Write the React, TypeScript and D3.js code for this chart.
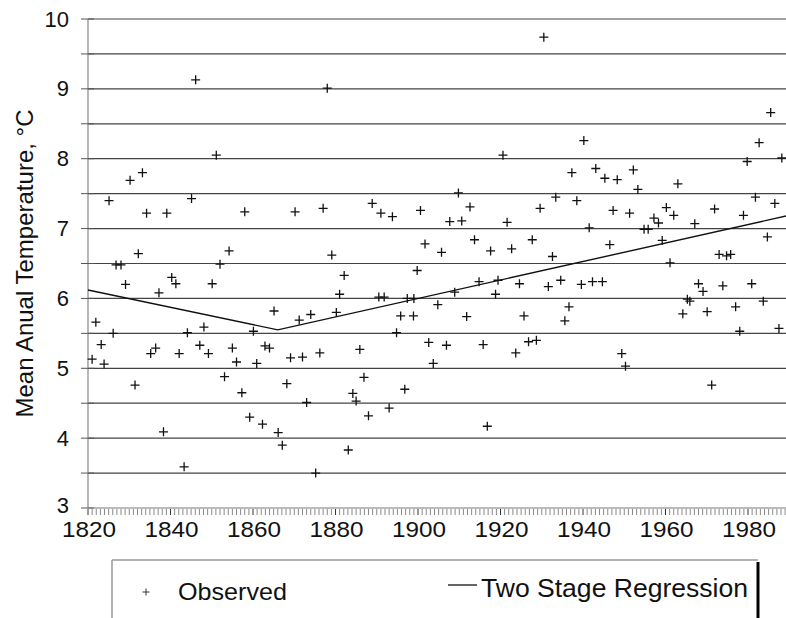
import React from "react";
import * as d3 from "d3";

// observed annual means: [year, °C]
const observed: [number, number][] = [
  [1821.0, 5.13], [1821.9, 5.66], [1823.2, 5.34], [1823.9, 5.06], [1825.1, 7.40], [1826.1, 5.50],
  [1826.8, 6.48], [1828.0, 6.48], [1829.1, 6.20], [1830.2, 7.69], [1831.4, 4.76], [1832.2, 6.64],
  [1833.2, 7.80], [1834.2, 7.22], [1835.2, 5.21], [1836.4, 5.29], [1837.2, 6.08], [1838.3, 4.09],
  [1839.1, 7.22], [1840.3, 6.30], [1841.3, 6.21], [1842.1, 5.21], [1843.3, 3.59], [1844.1, 5.51],
  [1845.1, 7.43], [1846.1, 9.13], [1847.1, 5.33], [1848.1, 5.59], [1849.2, 5.21], [1850.1, 6.21],
  [1851.1, 8.05], [1852.0, 6.49], [1853.1, 4.88], [1854.2, 6.68], [1855.0, 5.29], [1856.0, 5.09],
  [1857.3, 4.65], [1858.0, 7.24], [1859.2, 4.30], [1860.1, 5.53], [1860.9, 5.07],
  [1862.3, 4.20], [1862.9, 5.32], [1864.0, 5.29], [1865.1, 5.82], [1866.1, 4.08], [1867.1, 3.90],
  [1868.2, 4.78], [1869.1, 5.15], [1870.2, 7.24], [1871.2, 5.69], [1872.0, 5.16], [1873.0, 4.51],
  [1874.0, 5.77], [1875.2, 3.50], [1876.2, 5.22], [1877.0, 7.29], [1878.0, 9.01], [1879.1, 6.62],
  [1880.2, 5.80], [1881.0, 6.06], [1882.1, 6.33], [1883.1, 3.83], [1884.2, 4.64], [1885.0, 4.53],
  [1885.9, 5.27], [1886.9, 4.87], [1888.0, 4.32], [1888.9, 7.36], [1890.5, 6.02], [1891.0, 7.22],
  [1891.8, 6.02], [1893.0, 4.43], [1893.8, 7.17], [1894.8, 5.51], [1895.8, 5.75], [1896.8, 4.70],
  [1897.4, 6.00], [1898.9, 5.75], [1899.0, 6.00], [1899.8, 6.40], [1900.6, 7.26], [1901.7, 6.78],
  [1902.6, 5.37], [1903.7, 5.07], [1904.8, 5.91], [1905.7, 6.66], [1906.9, 5.33], [1907.7, 7.10],
  [1908.9, 6.09], [1909.8, 7.51], [1910.6, 7.11], [1911.8, 5.74], [1912.6, 7.31], [1913.7, 6.84],
  [1914.8, 6.24], [1915.8, 5.34], [1916.8, 4.17], [1917.6, 6.68], [1918.8, 6.06], [1919.4, 6.26],
  [1920.6, 8.05], [1921.6, 7.09], [1922.7, 6.71], [1923.7, 5.22], [1924.6, 6.21], [1925.7, 5.75],
  [1926.8, 5.38], [1927.7, 6.84], [1928.7, 5.40], [1929.6, 7.29], [1930.5, 9.74], [1931.6, 6.17],
  [1932.6, 6.60], [1933.4, 7.45], [1934.6, 6.26], [1935.6, 5.68], [1936.6, 5.88], [1937.3, 7.80],
  [1938.5, 7.40], [1939.6, 6.20], [1940.2, 8.26], [1941.5, 7.01], [1942.3, 6.24], [1943.1, 7.86],
  [1944.7, 6.24], [1945.3, 7.72], [1946.5, 6.77], [1947.3, 7.26], [1948.3, 7.70], [1949.4, 5.21],
  [1950.3, 5.03], [1951.3, 7.22], [1952.2, 7.84], [1953.3, 7.56], [1954.8, 6.99], [1955.8, 6.99],
  [1957.2, 7.15], [1958.3, 7.08], [1959.2, 6.83], [1960.2, 7.30], [1961.1, 6.51], [1962.0, 7.19],
  [1963.0, 7.64], [1964.2, 5.78], [1965.3, 5.99], [1965.9, 5.96], [1967.1, 7.07], [1968.0, 6.21],
  [1969.1, 6.10], [1970.1, 5.81], [1971.2, 4.76], [1971.9, 7.28], [1973.0, 6.63], [1973.9, 6.18],
  [1974.8, 6.61], [1975.8, 6.63], [1977.0, 5.88], [1978.0, 5.53], [1978.9, 7.19], [1979.8, 7.96],
  [1980.9, 6.21], [1981.8, 7.45], [1982.7, 8.23], [1983.7, 5.96], [1984.7, 6.88], [1985.5, 8.66],
  [1986.5, 7.36], [1987.5, 5.57], [1988.2, 8.01],
];

// two stage regression: breakpoint around 1866
const regression: [number, number][] = [
  [1820, 6.12], [1866, 5.55], [1990, 7.19],
];

const yearTicks = [1820, 1840, 1860, 1880, 1900, 1920, 1940, 1960, 1980];
const tempTicks = [3, 4, 5, 6, 7, 8, 9, 10];
const seriesNames = ["Observed", "Two Stage Regression"];

const W = 786;
const H = 618;
const FONT = "'Liberation Sans', Arial, Helvetica, sans-serif";

export default function App() {
  const x = d3.scaleLinear().domain([1820, 1990]).range([88, 789.25]);
  const y = d3.scaleLinear().domain([3, 10]).range([508, 19]);

  const halfSteps = d3.range(3.5, 10.01, 0.5);
  const allHalf = d3.range(3, 10.01, 0.5);
  const years = d3.range(1820, 1990, 1);

  const line = d3.line<[number, number]>()
    .x(d => x(d[0]))
    .y(d => y(d[1]));

  const plus = "M-4.5,0H4.5M0,-4.5V4.5";

  return (
    <svg width={W} height={H} style={{ position: "absolute", left: 0, top: 0, background: "#fff" }}>
      {/* horizontal grid every half degree */}
      {halfSteps.map(v => (
        <line key={"g" + v} x1={x(1820)} x2={W} y1={y(v)} y2={y(v)} stroke="#444" strokeWidth={1.2} />
      ))}

      {/* y axis */}
      <line x1={x(1820)} x2={x(1820)} y1={y(10)} y2={y(3)} stroke="#888" strokeWidth={1.2} />
      {allHalf.map(v => (
        <line key={"yt" + v} x1={81} x2={94} y1={y(v)} y2={y(v)} stroke="#555" strokeWidth={1} />
      ))}
      {tempTicks.map(v => (
        <text key={"yl" + v} x={69} y={y(v) - (v === 3 ? 3 : 0)} textAnchor="end" dominantBaseline="central"
          fontFamily={FONT} fontSize={22} fill="#111">{v}</text>
      ))}
      <text transform={`translate(24,${(y(10) + y(3)) / 2}) rotate(-90)`} textAnchor="middle"
        dominantBaseline="central" fontFamily={FONT} fontSize={24} fill="#111">
        Mean Anual Temperature, °C
      </text>

      {/* x axis with yearly minor ticks */}
      <line x1={x(1820)} x2={W} y1={y(3)} y2={y(3)} stroke="#777" strokeWidth={1} />
      {years.map(v => (
        <line key={"xt" + v} x1={x(v)} x2={x(v)} y1={y(3) + 1} y2={y(3) + 7}
          stroke={v % 20 === 0 ? "#333" : "#888"} strokeWidth={1} />
      ))}
      {yearTicks.map(v => (
        <text key={"xl" + v} x={x(v) + 1} y={537} textAnchor="middle" textLength={54}
          lengthAdjust="spacingAndGlyphs" fontFamily={FONT} fontSize={22} fill="#111">{v}</text>
      ))}

      {/* regression */}
      <path d={line(regression) || ""} fill="none" stroke="#111" strokeWidth={1.4} />

      {/* observed */}
      {observed.map((d, i) => (
        <path key={"p" + i} d={plus} transform={`translate(${x(d[0])},${y(d[1])})`}
          stroke="#111" strokeWidth={1.3} fill="none" />
      ))}

      {/* legend */}
      <line x1={112} x2={758} y1={560} y2={560} stroke="#999" strokeWidth={1.5} />
      <line x1={112} x2={112} y1={560} y2={H} stroke="#999" strokeWidth={1.5} />
      <line x1={758} x2={758} y1={562} y2={H} stroke="#000" strokeWidth={3} />
      <path d="M-3.5,0H3.5M0,-3.5V3.5" transform="translate(146,592)" stroke="#333" strokeWidth={1} fill="none" />
      <text x={178} y={600} textLength={109} lengthAdjust="spacingAndGlyphs"
        fontFamily={FONT} fontSize={24} fill="#111">{seriesNames[0]}</text>
      <line x1={448} x2={477} y1={585} y2={585} stroke="#111" strokeWidth={1.3} />
      <text x={481} y={597} textLength={267} lengthAdjust="spacingAndGlyphs"
        fontFamily={FONT} fontSize={25} fill="#111">{seriesNames[1]}</text>
    </svg>
  );
}
